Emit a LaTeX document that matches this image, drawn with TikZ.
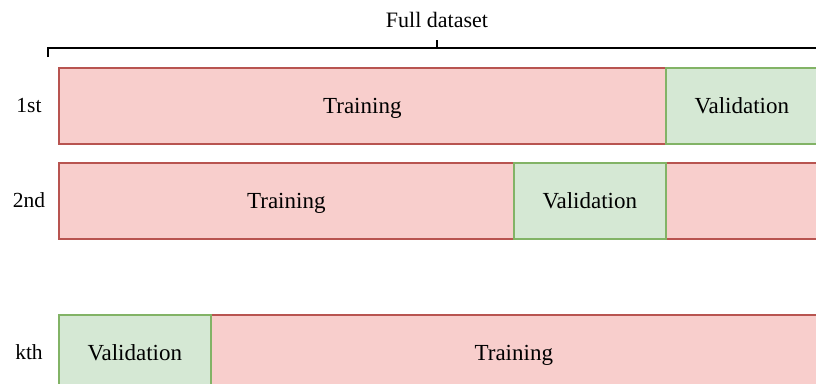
\documentclass[tikz,border=0pt]{standalone}
\usepackage{fontspec}
\setmainfont{Liberation Serif}
\begin{document}
\begin{tikzpicture}[x=1pt,y=-1pt,
  fixedtext/.style={text height=20pt, text depth=4pt},
  barbox/.style={fixedtext, line width=1.6pt, anchor=north west, minimum height=76pt, inner sep=0pt, font=\fontsize{23}{27}\selectfont},
  trainbox/.style={barbox, draw={rgb,255:red,184;green,84;blue,80}, fill={rgb,255:red,248;green,206;blue,204}},
  valbox/.style={barbox, draw={rgb,255:red,130;green,179;blue,102}, fill={rgb,255:red,213;green,232;blue,212}},
  rowlabel/.style={fixedtext, font=\fontsize{21.5}{25}\selectfont, inner sep=0pt}]
\useasboundingbox (0,0) rectangle (816,383);
% bracket
\node[fixedtext, font=\fontsize{22}{26}\selectfont, inner sep=0pt] (full) at (437,19) {Full dataset};
\coordinate (bl) at (48,57);
\coordinate (bc) at (437,40);
\draw[line width=1.6pt] (bl) -- (48,48) -- (818,48);
\draw[line width=1.6pt] (437,48) -- (bc);
% row 1
\node[rowlabel] (l1) at (29,104.5) {1st};
\node[trainbox, minimum width=607pt] (t1) at (58,67) {Training};
\node[valbox, minimum width=152pt] (v1) at (665,67) {Validation};
% row 2
\node[rowlabel] (l2) at (29,199.5) {2nd};
\node[trainbox, minimum width=455pt] (t2a) at (58,162) {Training};
\node[trainbox, minimum width=151pt] (t2b) at (665,162) {};
\node[valbox, minimum width=152pt] (v2) at (513,162) {Validation};
% row 3
\node[rowlabel] (l3) at (29,351.5) {kth};
\node[trainbox, minimum width=606pt] (t3) at (210,314) {Training};
\node[valbox, minimum width=152pt] (v3) at (58,314) {Validation};
\end{tikzpicture}
\end{document}
